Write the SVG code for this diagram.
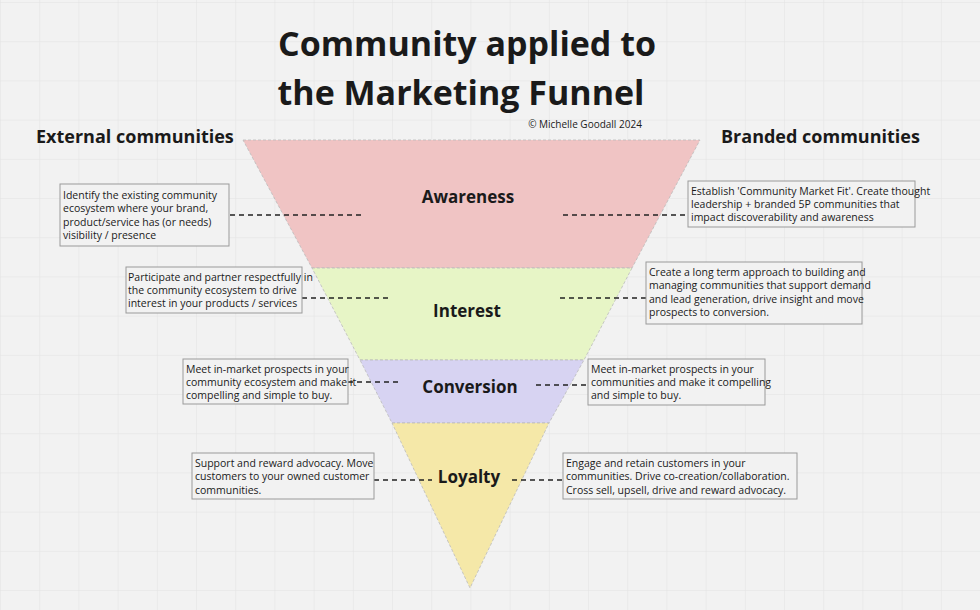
<svg xmlns="http://www.w3.org/2000/svg" width="980" height="610" viewBox="0 0 980 610">
<defs>
<pattern id="grid" width="39.2" height="39.2" patternUnits="userSpaceOnUse" x="1" y="3">
<path d="M39.2 0V39.2H0" fill="none" stroke="#e2e2e2" stroke-width="1"/>
</pattern>
<style>
text{font-family:"Open Sans","Noto Sans","Liberation Sans",sans-serif;fill:#1a1a1a}
.box{fill:#f2f2f2;stroke:#9a9a9a;stroke-width:1}
.bt{font-size:10.5px}
.lbl{font-size:17px;font-weight:700;text-anchor:middle}
.hd{font-size:18px;font-weight:700}
.dash{stroke:#222;stroke-width:1.3;stroke-dasharray:5 4;fill:none}
.band{stroke:#bbb;stroke-width:0.8;stroke-dasharray:3 2}
</style>
</defs>
<rect width="980" height="610" fill="#f2f2f2"/>
<rect width="980" height="610" fill="url(#grid)"/>
<text x="467" y="56" font-size="34" font-weight="700" text-anchor="middle">Community applied to</text>
<text x="461" y="105" font-size="34" font-weight="700" text-anchor="middle">the Marketing Funnel</text>
<text x="585" y="128" font-size="10" text-anchor="middle">© Michelle Goodall 2024</text>
<text class="hd" x="36" y="143">External communities</text>
<text class="hd" x="721" y="143">Branded communities</text>
<g id="funnel">
<polygon class="band" points="243,140 700,140 632,268 312,268" fill="#f0c4c4"/>
<polygon class="band" points="312,268 632,268 584,360 360,360" fill="#e7f5c6"/>
<polygon class="band" points="360,360 584,360 549,423 392,423" fill="#d7d3f2"/>
<polygon class="band" points="392,423 549,423 470,588" fill="#f5e8a8"/>
</g>
<g id="connectors">
<line class="dash" x1="230" y1="215" x2="362" y2="215"/>
<line class="dash" x1="563" y1="215" x2="688" y2="215"/>
<line class="dash" x1="302" y1="298" x2="388" y2="298"/>
<line class="dash" x1="560" y1="298" x2="646" y2="298"/>
<line class="dash" x1="348" y1="382" x2="400" y2="382"/>
<line class="dash" x1="536" y1="385" x2="588" y2="385"/>
<line class="dash" x1="374" y1="480" x2="432" y2="480"/>
<line class="dash" x1="512" y1="480" x2="563" y2="480"/>
</g>
<g id="awareness"><text class="lbl" x="468" y="203">Awareness</text></g>
<g id="interest"><text class="lbl" x="467" y="317">Interest</text></g>
<g id="conversion"><text class="lbl" x="470" y="393">Conversion</text></g>
<g id="loyalty"><text class="lbl" x="469" y="483">Loyalty</text></g>
<g id="ext-awareness"><rect class="box" x="60" y="184" width="169" height="62"/>
<text class="bt" x="63" y="199">Identify the existing community</text>
<text class="bt" x="63" y="212">ecosystem where your brand,</text>
<text class="bt" x="63" y="226">product/service has (or needs)</text>
<text class="bt" x="63" y="239">visibility / presence</text></g>
<g id="ext-interest"><rect class="box" x="126" y="267" width="176" height="46"/>
<text class="bt" x="128" y="281">Participate and partner respectfully in</text>
<text class="bt" x="128" y="294">the community ecosystem to drive</text>
<text class="bt" x="128" y="307">interest in your products / services</text></g>
<g id="ext-conversion"><rect class="box" x="183" y="359" width="165" height="45"/>
<text class="bt" x="186" y="373">Meet in-market prospects in your</text>
<text class="bt" x="186" y="386">community ecosystem and make it</text>
<text class="bt" x="186" y="399">compelling and simple to buy.</text></g>
<g id="ext-loyalty"><rect class="box" x="192" y="453" width="182" height="46"/>
<text class="bt" x="195" y="467">Support and reward advocacy. Move</text>
<text class="bt" x="195" y="480">customers to your owned customer</text>
<text class="bt" x="195" y="494">communities.</text></g>
<g id="br-awareness"><rect class="box" x="688" y="181" width="227" height="46"/>
<text class="bt" x="691" y="195">Establish 'Community Market Fit'. Create thought</text>
<text class="bt" x="691" y="208">leadership + branded 5P communities that</text>
<text class="bt" x="691" y="221">impact discoverability and awareness</text></g>
<g id="br-interest"><rect class="box" x="646" y="262" width="216" height="62"/>
<text class="bt" x="649" y="276">Create a long term approach to building and</text>
<text class="bt" x="649" y="289">managing communities that support demand</text>
<text class="bt" x="649" y="303">and lead generation, drive insight and move</text>
<text class="bt" x="649" y="316">prospects to conversion.</text></g>
<g id="br-conversion"><rect class="box" x="588" y="359" width="177" height="46"/>
<text class="bt" x="591" y="373">Meet in-market prospects in your</text>
<text class="bt" x="591" y="386">communities and make it compelling</text>
<text class="bt" x="591" y="399">and simple to buy.</text></g>
<g id="br-loyalty"><rect class="box" x="563" y="453" width="234" height="46"/>
<text class="bt" x="566" y="467">Engage and retain customers in your</text>
<text class="bt" x="566" y="480">communities. Drive co-creation/collaboration.</text>
<text class="bt" x="566" y="494">Cross sell, upsell, drive and reward advocacy.</text></g>
</svg>
